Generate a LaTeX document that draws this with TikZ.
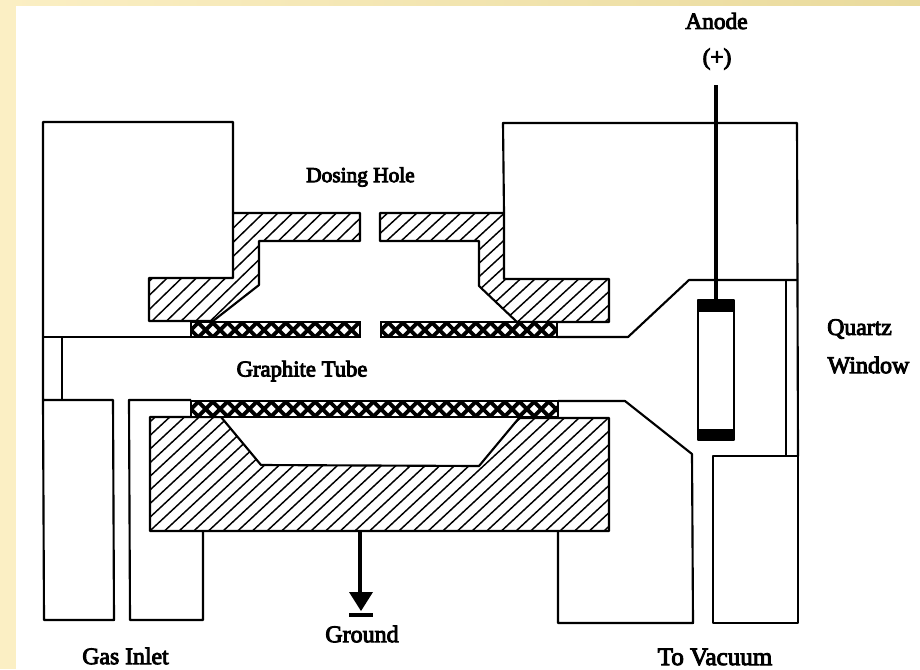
\documentclass[tikz,border=0pt]{standalone}
\usepackage{fontspec}
\setmainfont{Liberation Serif}
\usetikzlibrary{calc}
\definecolor{creamL}{HTML}{FBEFC4}
\definecolor{creamT}{HTML}{E9DA9C}
\newcommand{\hatchfill}[5]{% polygon, X0, Y0, slope, spacing
  \begin{scope}
    \clip #1;
    \foreach \k in {-45,...,45}{
      \draw[hatchline] ({#2+#5*\k-260/#4},{#3+260}) -- ({#2+#5*\k+260/#4},{#3-260});
    }
  \end{scope}
}
\newcommand{\crossfill}[4]{% x1,y1,x2,y2
  \begin{scope}
    \clip (#1,#2) rectangle (#3,#4);
    \fill[white] (#1,#2) rectangle (#3,#4);
    \foreach \k in {-6,...,34}{
      \draw[crossline] ({#1+14.6*\k-30},{#2+38}) -- ({#1+14.6*\k+30},{#2-22});
      \draw[crossline] ({#1+14.6*\k-30},{#2-22}) -- ({#1+14.6*\k+30},{#2+38});
    }
  \end{scope}
  \draw[black,line width=2.2pt] (#1,#2) rectangle (#3,#4);
}
\tikzset{
  wall/.style={black,line width=1.6pt,line join=round},
  thinwall/.style={black,line width=1.4pt,line join=round},
  hatchline/.style={black,line width=1.1pt},
  crossline/.style={black,line width=2.9pt},
  lab/.style={inner sep=0pt,text=black},
}
\newcommand{\lsize}[2]{\fontsize{#1}{#1}\selectfont\special{pdf:code 2 Tr 0.7 w}#2\special{pdf:code 0 Tr}}
\begin{document}
\begin{tikzpicture}[x=0.75pt,y=-0.75pt]
\useasboundingbox (0,0) rectangle (920,669);
\fill[white] (0,0) rectangle (920,669);
\fill[creamL] (0,0) rectangle (16,669);
\shade[left color=creamL,right color=creamT] (0,0) rectangle (920,5);

% hatched bodies
\def\polyUL{(233,213) -- (360,213) -- (360,241) -- (259,241) -- (259,285) -- (213,321) -- (149,321) -- (149,278) -- (233,278) -- cycle}
\def\polyUR{(380,213) -- (504,213) -- (504,279) -- (609,279) -- (609,322) -- (517,322) -- (479,286) -- (479,241) -- (380,241) -- cycle}
\def\polyLO{(150,417) -- (221,417) -- (261,465) -- (479,466) -- (519,418) -- (609,418) -- (609,531) -- (150,531) -- cycle}
\hatchfill{\polyUL}{152}{321}{0.97}{14.6}
\hatchfill{\polyUR}{532}{322}{0.92}{14.6}
\hatchfill{\polyLO}{267}{531}{0.93}{14.65}
\draw[wall] \polyUL;
\draw[wall] \polyUR;
\draw[wall] \polyLO;

% graphite tube segments
\crossfill{191}{322}{360}{337}
\crossfill{381}{322}{557}{337}
\crossfill{191}{401}{558}{417}

% upper left block and gas channel
\draw[wall] (233,213) -- (233,122) -- (43,122) -- (43,400) -- (113,400) -- (114,620) -- (44,620) -- (43,400);
\draw[wall] (43,337) -- (191,337);
\draw[thinwall] (62,337) -- (62,400);
\draw[wall] (191,400) -- (129,400) -- (130,620) -- (203,620) -- (203,531);

% upper right block, window side
\draw[wall] (504,213) -- (503,123) -- (797,123) -- (798,456);
\draw[wall] (557,337) -- (628,337) -- (689,280) -- (797,280);
\draw[thinwall] (786,280) -- (786,456);
\draw[wall] (713,456) -- (798,456) -- (798,623) -- (713,623) -- cycle;
\draw[wall] (558,401) -- (625,401) -- (692,454) -- (693,623) -- (558,623) -- (558,531);

% lamp and anode lead
\draw[black,line width=2.6pt] (716,85) -- (716,300);
\draw[wall,line width=1.9pt] (698,300) rectangle (734,440);
\fill[black] (697,300) rectangle (735,312);
\fill[black] (697,429) rectangle (735,440);

% ground
\draw[black,line width=3pt] (360,531) -- (360,593);
\fill[black] (349,592) -- (373,592) -- (361,611) -- cycle;
\draw[black,line width=2.4pt] (349,615) -- (373,615);

% labels
\node[lab] (anode) at (716.5,21) {\lsize{17.5}{Anode}};
\node[lab] (plus) at (717,59) {\lsize{17.5}{(+)}};
\node[lab] (dosing) at (360.5,177) {\lsize{16}{Dosing Hole}};
\node[lab] (graphite) at (302,371) {\lsize{17}{Graphite Tube}};
\node[lab] (quartz) at (859.5,329) {\lsize{17.8}{Quartz}};
\node[lab] (window) at (868.5,365) {\lsize{18}{Window}};
\node[lab] (ground) at (362,634) {\lsize{18}{Ground}};
\node[lab] (gas) at (125.5,656) {\lsize{17.8}{Gas Inlet}};
\node[lab] (vacuum) at (715,657) {\lsize{18.8}{To Vacuum}};
\end{tikzpicture}
\end{document}
